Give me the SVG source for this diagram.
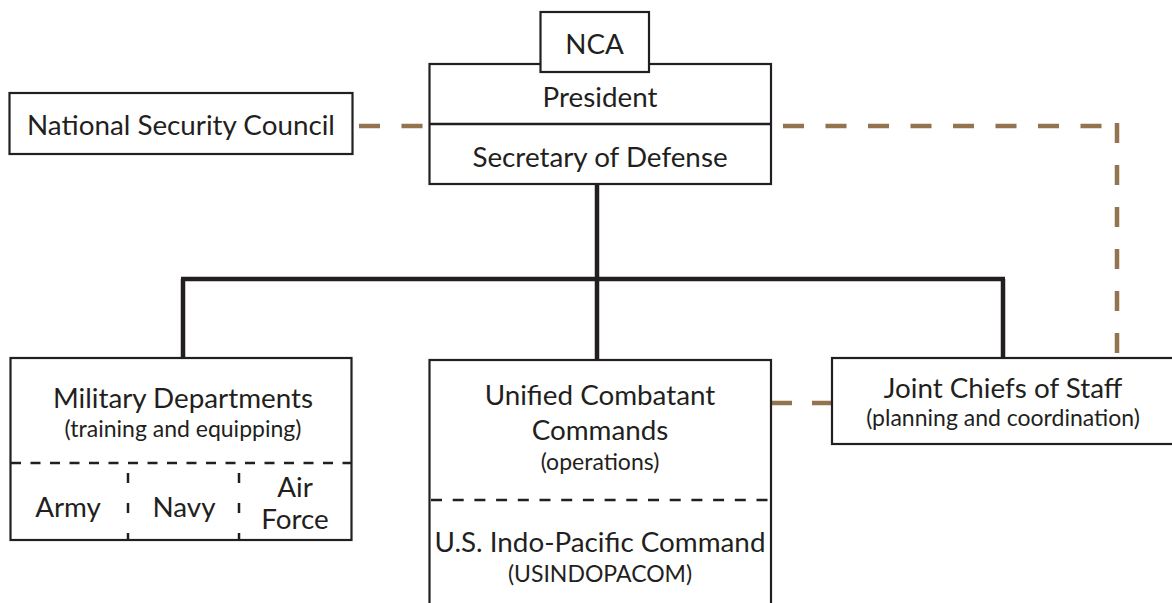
<svg xmlns="http://www.w3.org/2000/svg" width="1172" height="603" viewBox="0 0 1172 603">
<style>
.box{fill:#fff;stroke:#231f20;stroke-width:2.2}
.t{font-family:Lato,"Open Sans",sans-serif;font-size:27.8px;fill:#231f20;text-anchor:middle}
.s{font-family:Lato,"Open Sans",sans-serif;font-size:23px;fill:#231f20;text-anchor:middle}
.tree{fill:none;stroke:#231f20;stroke-width:4.5}
.brown{fill:none;stroke:#94734f;stroke-width:4.5}
.div{fill:none;stroke:#231f20;stroke-width:2.5}
</style>
<rect width="1172" height="603" fill="#fff"/>
<g id="connectors">
<path class="tree" d="M597 184V279"/>
<path class="tree" d="M181 279H1005" stroke-width="5.5"/>
<path class="tree" d="M183 279V358M597 279V360M1003 279V358"/>
<path class="brown" d="M359 126H423" stroke-dasharray="21 21.5"/>
<path class="brown" d="M783 126H1102" stroke-dasharray="21 21.5"/>
<path class="brown" d="M1117 123V353" stroke-dasharray="20 22"/>
<path class="brown" d="M771 403H832" stroke-dasharray="21 20"/>
</g>
<g id="nsc">
<rect class="box" x="9.5" y="93" width="343" height="61"/>
<text class="t" x="181" y="135">National Security Council</text>
</g>
<g id="president">
<rect class="box" x="429.5" y="64" width="341.5" height="120"/>
<line class="div" x1="429.5" y1="124" x2="771" y2="124" stroke-width="2.2"/>
<text class="t" x="600" y="107">President</text>
<text class="t" x="600" y="167">Secretary of Defense</text>
</g>
<g id="nca">
<rect class="box" x="540.5" y="12" width="108.5" height="60"/>
<text class="t" x="594.5" y="54">NCA</text>
</g>
<g id="military">
<rect class="box" x="10.5" y="358" width="341" height="182"/>
<path class="div" d="M11 463H351" stroke-dasharray="10 9.5"/>
<path class="div" d="M128 473V540M239 473V540" stroke-dasharray="10 20"/>
<text class="t" x="183" y="408">Military Departments</text>
<text class="s" x="183" y="437">(training and equipping)</text>
<text class="t" x="68" y="517">Army</text>
<text class="t" x="184" y="517">Navy</text>
<text class="t" x="295" y="497">Air</text>
<text class="t" x="295" y="529">Force</text>
</g>
<g id="unified">
<rect class="box" x="429.5" y="360" width="341.5" height="260"/>
<path class="div" d="M431 500H770" stroke-dasharray="11 10.7"/>
<text class="t" x="600" y="405">Unified Combatant</text>
<text class="t" x="600" y="440">Commands</text>
<text class="s" x="600" y="470">(operations)</text>
<text class="t" x="600" y="552">U.S. Indo-Pacific Command</text>
<text class="s" x="600" y="582">(USINDOPACOM)</text>
</g>
<g id="jcs">
<rect class="box" x="832" y="358" width="360" height="86"/>
<text class="t" x="1003" y="398">Joint Chiefs of Staff</text>
<text class="s" x="1003" y="426">(planning and coordination)</text>
</g>
</svg>
